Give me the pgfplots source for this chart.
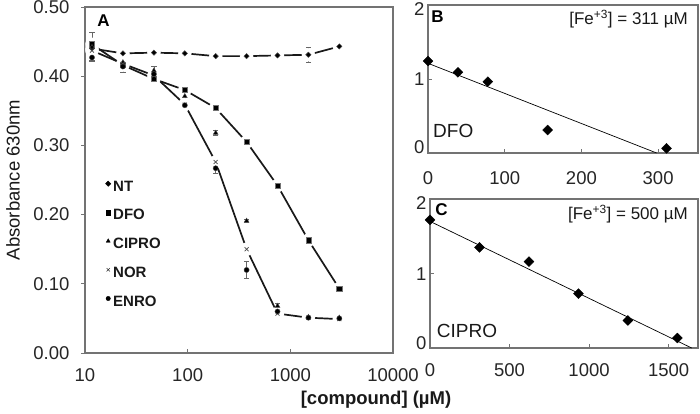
\documentclass[border=0pt]{standalone}
\usepackage{pgfplots}
\pgfplotsset{compat=1.18}
\usepackage{pgfplotstable}
\usepackage{fontspec}
\setmainfont{Liberation Sans}

\pgfplotstableread{
x     nt    nte   dfo   dfoe  cip   cipe  nor   nore  enr   enre
11.7  0.440 0.004 0.446 0.004 0.442 0.021 0.437 0.004 0.427 0.004
23.4  0.433 0.006 0.416 0.011 0.420 0.005 0.418 0.005 0.414 0.005
46.9  0.434 0.002 0.396 0.005 0.408 0.006 0.401 0.004 0.403 0.004
93.8  0.433 0.006 0.380 0.006 0.371 0.006 0.359 0.004 0.358 0.004
187.5 0.429 0.007 0.354 0.004 0.318 0.004 0.276 0.007 0.267 0.008
375   0.429 0.006 0.305 0.004 0.191 0.002 0.150 0.003 0.120 0.012
750   0.430 0.003 0.242 0.004 0.068 0.004 0.057 0.004 0.060 0.004
1500  0.431 0.011 0.163 0.002 0.052 0.002 0.051 0.002 0.051 0.002
3000  0.443 0.005 0.093 0.002 0.051 0.005 0.049 0.004 0.050 0.004
}\dataA

\newcommand{\fs}[1]{\fontsize{#1}{#1}\selectfont}
\newcommand{\rl}[2]{\raisebox{#1}[0pt][0pt]{#2}}

\pgfplotsset{
  every axis/.append style={
    scale only axis,
    clip=false,
    axis line style={draw=black!55, line width=1.1pt},
    tick style={draw=black!55, line width=0.9pt},
    major tick length=4pt,
    tick align=inside,
    tick pos=left,
    ticklabel style={font=\fs{18.5}, text=black!85},
    /pgf/number format/assume math mode=true,
    /pgf/number format/1000 sep={},
  },
  eb/.style={error bars/.cd, y dir=both, y explicit,
    error bar style={draw=black!60, line width=0.6pt},
    error mark options={rotate=90, mark size=2.6pt, draw=black!60, line width=0.6pt}, /pgfplots/.cd},
}

\begin{document}
\begin{tikzpicture}[x=1pt,y=1pt]
\useasboundingbox (0,0) rectangle (700,414);

% Panel A
\begin{axis}[at={(85pt,61pt)}, anchor=south west, width=308pt, height=346pt,
  xmode=log, xmin=10, xmax=10000, ymin=0, ymax=0.5,
  xtick={10,100,1000,10000}, xticklabels={10,100,1000,10000},
  xminorticks=false,
  xticklabel style={yshift=-12pt},
  ytick={0,0.1,0.2,0.3,0.4,0.5},
  yticklabel style={xshift=-12pt, /pgf/number format/.cd, fixed, fixed zerofill, precision=2},
  ytick style={xshift=-4pt},
  legend style={draw=none, fill=none, at={(rel axis cs:0.065,0.50)}, anchor=north west,
    row sep=17.7pt, inner sep=0pt,
    nodes={inner sep=0pt, text height=11pt, text depth=0pt, font=\bfseries\fs{15}, text=black!90}},
  legend cell align=left,
  legend image code/.code={\path[draw=none,fill=none] (-3pt,2pt) -- (5pt,2pt); \draw[#1] plot coordinates {(0pt,2pt)};},
]
% connecting lines
\addplot[black!90, line width=1.7pt, forget plot] table[x=x, y=nt] {\dataA};
\addplot[black!90, line width=1.7pt, forget plot] table[x=x, y=dfo] {\dataA};
\addplot[black!90, line width=1.7pt, forget plot] table[x=x, y=nor] {\dataA};
% gaps around the markers
\addplot[only marks, mark=*, mark size=6.5pt, mark options={draw=white, fill=white}, forget plot] table[x=x, y=nt] {\dataA};
\addplot[only marks, mark=*, mark size=6.5pt, mark options={draw=white, fill=white}, forget plot] table[x=x, y=dfo] {\dataA};
\addplot[only marks, mark=*, mark size=6.5pt, mark options={draw=white, fill=white}, forget plot] table[x=x, y=nor] {\dataA};
% markers with error bars
\addplot[forget plot, only marks, mark=square*, mark size=1.9pt, mark options={rotate=45, fill=black, draw=black!70}, eb]
  table[x=x, y=nt, y error=nte] {\dataA};
\addplot[forget plot, only marks, mark=square*, mark size=2.6pt, mark options={fill=black, draw=black!55, line width=0.6pt}, eb]
  table[x=x, y=dfo, y error=dfoe] {\dataA};
\addplot[forget plot, only marks, mark=triangle*, mark size=2.8pt, mark options={fill=black, draw=black!70}, eb]
  table[x=x, y=cip, y error=cipe] {\dataA};
\addplot[forget plot, only marks, mark=x, mark size=2.8pt, mark options={draw=black!70, line width=0.7pt}, eb]
  table[x=x, y=nor, y error=nore] {\dataA};
\addplot[forget plot, only marks, mark=*, mark size=2.6pt, mark options={fill=black, draw=black!70}, eb]
  table[x=x, y=enr, y error=enre] {\dataA};
\addlegendimage{only marks, mark=square*, mark size=1.9pt, mark options={rotate=45, fill=black, draw=black}}
\addlegendentry{NT}
\addlegendimage{only marks, mark=square*, mark size=2.3pt, mark options={fill=black, draw=black}}
\addlegendentry{DFO}
\addlegendimage{only marks, mark=triangle*, mark size=2.3pt, mark options={fill=black, draw=black}}
\addlegendentry{CIPRO}
\addlegendimage{only marks, mark=x, mark size=2.3pt, mark options={draw=black!80, line width=0.5pt}}
\addlegendentry{NOR}
\addlegendimage{only marks, mark=*, mark size=2.2pt, mark options={fill=black, draw=black}}
\addlegendentry{ENRO}
\end{axis}

% Panel B
\begin{axis}[at={(428pt,261pt)}, anchor=south west, width=270pt, height=148pt,
  xmin=0, xmax=352, ymin=0, ymax=2,
  xtick={0,100,200,300}, ytick={0,1,2},
  yticklabels={\rl{-0.6pt}{0},\rl{-6.6pt}{1},\rl{-10.6pt}{2}},
  xticklabel style={yshift=-15pt},
]
\addplot[black, line width=0.7pt] coordinates {(0,1.212) (298,0)};
\addplot[only marks, mark=square*, mark size=3.5pt, mark options={rotate=45, fill=black, draw=black}]
  coordinates {(0,1.243) (39,1.09) (78,0.964) (156,0.31) (311,0.063)};
\end{axis}

% Panel C
\begin{axis}[at={(430pt,66pt)}, anchor=south west, width=268pt, height=149pt,
  xmin=0, xmax=1685, ymin=0, ymax=2,
  xtick={0,500,1000,1500}, ytick={0,1,2},
  yticklabels={\rl{-1.6pt}{0},\rl{-6.6pt}{1},\rl{-10.6pt}{2}},
  xticklabel style={yshift=-12pt},
]
\addplot[black, line width=0.7pt] coordinates {(0,1.70) (1645,0)};
\addplot[only marks, mark=square*, mark size=3.5pt, mark options={rotate=45, fill=black, draw=black}]
  coordinates {(0,1.72) (311,1.35) (622,1.16) (933,0.73) (1244,0.37) (1555,0.134)};
\end{axis}

% texts
\node[font=\bfseries\fs{17}, inner sep=0pt] at (103.5,393) {A};
\node[font=\bfseries\fs{17}, inner sep=0pt] at (437.5,397) {B};
\node[font=\bfseries\fs{17}, inner sep=0pt] at (441.5,204) {C};
\node[font=\fs{17}, inner sep=0pt, anchor=base east, text=black!90] at (688,389) {[Fe\textsuperscript{+3}] = 311 µM};
\node[font=\fs{17}, inner sep=0pt, anchor=base east, text=black!90] at (688,194) {[Fe\textsuperscript{+3}] = 500 µM};
\node[font=\fs{19}, inner sep=0pt, anchor=base west, text=black!90] at (433,276.3) {DFO};
\node[font=\fs{19}, inner sep=0pt, anchor=base west, text=black!90] at (436.7,76.7) {CIPRO};
\node[font=\fs{18.5}, inner sep=0pt, rotate=90, text=black!90] at (13,234) {Absorbance 630nm};
\node[font=\bfseries\fs{18.5}, inner sep=0pt, text=black!90] at (376,14) {[compound] (µM)};
\end{tikzpicture}
\end{document}
